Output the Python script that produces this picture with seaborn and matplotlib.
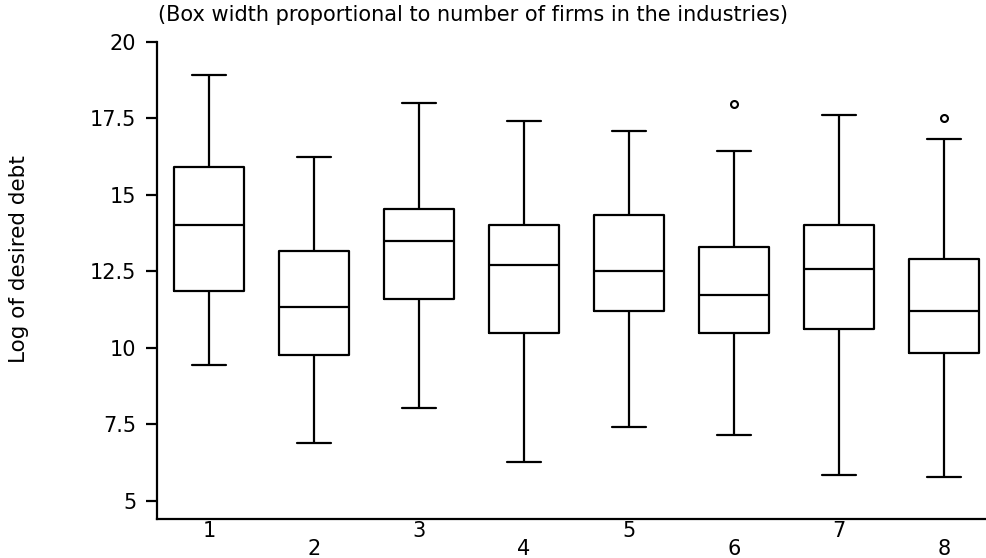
import matplotlib
matplotlib.use("Agg")
import matplotlib.pyplot as plt
import numpy as np
import pandas as pd
import seaborn as sns

# Summary statistics of log desired debt per industry
industries = ["1", "2", "3", "4", "5", "6", "7", "8"]
whisker_low = [9.44, 6.90, 8.03, 6.28, 7.42, 7.17, 5.85, 5.78]
quartile_1 = [11.86, 9.76, 11.60, 10.50, 11.21, 10.50, 10.61, 9.84]
medians = [14.00, 11.34, 13.50, 12.71, 12.51, 11.73, 12.58, 11.21]
quartile_3 = [15.90, 13.16, 14.54, 14.01, 14.34, 13.30, 14.01, 12.91]
whisker_high = [18.91, 16.22, 18.01, 17.42, 17.08, 16.43, 17.61, 16.81]
outliers = [None, None, None, None, None, 17.97, None, 17.52]

y_ticks = [5, 7.5, 10, 12.5, 15, 17.5, 20]
y_tick_labels = ["5", "7.5", "10", "12.5", "15", "17.5", "20"]

title_text = "(Box width proportional to number of firms in the industries)"
y_label = "Log of desired debt"

# Nine values per industry whose quartiles, median and whisker ends
# reproduce the summary statistics exactly (the 9th is the outlier, if any).
rows = []
for ind, lo, q1, md, q3, hi, out in zip(industries, whisker_low, quartile_1,
                                        medians, quartile_3, whisker_high, outliers):
    top = hi if out is None else out
    for v in (lo, q1, q1, md, md, q3, q3, hi, top):
        rows.append({"industry": ind, "log_debt": v})
df = pd.DataFrame(rows)

sns.set_style("ticks")
plt.rcParams["font.family"] = ["DejaVu Sans"]

fig = plt.figure(figsize=(9.87, 5.58), dpi=100)
ax = fig.add_axes([157 / 987, 1 - 519 / 558, (987 - 157) / 987, (519 - 41.7) / 558])

sns.boxplot(
    data=df, x="industry", y="log_debt", order=industries,
    color="black", fill=False, width=0.66, linewidth=1.6,
    whis=(0, 87.5),
    flierprops=dict(marker="o", markersize=5, markerfacecolor="none",
                    markeredgecolor="black", markeredgewidth=1.5),
    ax=ax,
)

ax.set_xlim(-0.495, 7.41)
ax.set_ylim(4.41, 20)

for side in ("top", "right"):
    ax.spines[side].set_visible(False)
for side in ("left", "bottom"):
    ax.spines[side].set_linewidth(1.6)
    ax.spines[side].set_color("black")

ax.set_yticks(y_ticks, labels=y_tick_labels)
ax.set_xticks(range(len(industries)), labels=industries)
ax.tick_params(axis="y", length=8, width=1.6, pad=7, labelsize=15, colors="black")
ax.tick_params(axis="x", length=0, pad=1.5, labelsize=15, colors="black")
ax.grid(False)

ax.set_xlabel("")
ax.set_ylabel(y_label, fontsize=15.5, color="black")
ax.yaxis.set_label_coords(-0.154, 0.545)

fig.text(0.479, 0.974, title_text, ha="center", va="center", fontsize=15, color="black")

# Stagger the industry labels on two rows
for i, tick in enumerate(ax.xaxis.get_major_ticks()):
    if i % 2 == 1:
        tick.set_pad(14.5)

fig.savefig("out.png", dpi=100, facecolor="white")
